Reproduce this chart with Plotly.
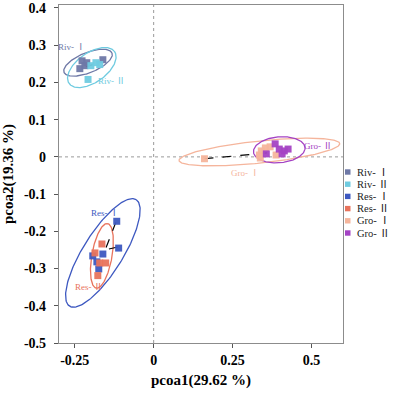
import numpy as np
import plotly.graph_objects as go

groups = ["Riv- Ⅰ", "Riv- Ⅱ", "Res- Ⅰ", "Res- Ⅱ", "Gro- Ⅰ", "Gro- Ⅱ"]
colors = ["#6e78a6", "#6fcbe0", "#3d58c0", "#e8735c", "#f5b59c", "#a443c4"]

riv1_x = [-0.227, -0.212, -0.234, -0.218, -0.161]
riv1_y = [0.258, 0.253, 0.237, 0.245, 0.261]
riv2_x = [-0.199, -0.183, -0.171, -0.208]
riv2_y = [0.245, 0.253, 0.248, 0.208]
res1_x = [-0.117, -0.111, -0.193, -0.180, -0.161, -0.174]
res1_y = [-0.173, -0.245, -0.266, -0.282, -0.261, -0.301]
res2_x = [-0.164, -0.171, -0.152, -0.177, -0.186]
res2_y = [-0.234, -0.285, -0.285, -0.319, -0.258]
gro1_x = [0.161, 0.335, 0.341, 0.354, 0.369, 0.338, 0.388]
gro1_y = [-0.005, 0.005, 0.016, 0.024, 0.027, -0.003, 0.005]
gro2_x = [0.385, 0.398, 0.414, 0.426, 0.357, 0.407]
gro2_y = [0.035, 0.021, 0.016, 0.021, 0.008, 0.008]

xs = [riv1_x, riv2_x, res1_x, res2_x, gro1_x, gro2_x]
ys = [riv1_y, riv2_y, res1_y, res2_y, gro1_y, gro2_y]

# ellipse parameters (center, semi-axes in x-units, screen angle deg)
ell_cx = [-0.208, -0.196, -0.161, -0.164, 0.335, 0.398]
ell_cy = [0.253, 0.240, -0.258, -0.266, 0.013, 0.019]
ell_a = [0.082, 0.088, 0.199, 0.104, 0.256, 0.082]
ell_b = [0.032, 0.047, 0.063, 0.032, 0.035, 0.041]
ell_ang = [22, 35, 58, 80, 6, 5]

# label positions
lab_x = [-0.26, -0.135, -0.155, -0.205, 0.29, 0.52]
lab_y = [0.295, 0.205, -0.15, -0.35, -0.042, 0.028]

# dashed links between groups
link_x0 = [-0.215, 0.161, -0.120, -0.114]
link_y0 = [0.242, -0.005, -0.176, -0.242]
link_x1 = [-0.193, 0.391, -0.155, -0.145]
link_y1 = [0.248, 0.013, -0.253, -0.248]

x_range = [-0.3, 0.6]
y_range = [-0.5, 0.408]
x_ticks = [-0.25, 0, 0.25, 0.5]
x_tick_text = ["-0.25", "0", "0.25", "0.5"]
y_ticks = [0.4, 0.3, 0.2, 0.1, 0, -0.1, -0.2, -0.3, -0.4, -0.5]
y_tick_text = ["0.4", "0.3", "0.2", "0.1", "0", "-0.1", "-0.2", "-0.3", "-0.4", "-0.5"]

W, H = 400, 397
ML, MR, MT, MB = 59, 57, 5, 54
pw = W - ML - MR
ph = H - MT - MB
sx = pw / (x_range[1] - x_range[0])
sy = ph / (y_range[1] - y_range[0])
k = sx / sy

fig = go.Figure()
FONT = "Liberation Serif, Times New Roman, Noto Sans CJK SC, serif"

# zero lines
fig.add_shape(type="line", x0=0, x1=0, y0=y_range[0], y1=y_range[1], xref="x", yref="y",
              line=dict(color="#9a9a9a", width=1, dash="dot"), layer="below")
fig.add_shape(type="line", x0=x_range[0], x1=x_range[1], y0=0, y1=0, xref="x", yref="y",
              line=dict(color="#9a9a9a", width=1, dash="dot"), layer="below")

t = np.linspace(0, 2 * np.pi, 200)
for i in range(6):
    th = np.deg2rad(ell_ang[i])
    ex = ell_cx[i] + ell_a[i] * np.cos(t) * np.cos(th) - ell_b[i] * np.sin(t) * np.sin(th)
    ey = ell_cy[i] + (ell_a[i] * np.cos(t) * np.sin(th) + ell_b[i] * np.sin(t) * np.cos(th)) * k
    fig.add_trace(go.Scatter(x=ex, y=ey, mode="lines", line=dict(color=colors[i], width=1.3),
                             showlegend=False, hoverinfo="skip"))

for i in range(len(link_x0)):
    fig.add_trace(go.Scatter(x=[link_x0[i], link_x1[i]], y=[link_y0[i], link_y1[i]], mode="lines",
                             line=dict(color="black", width=1.2, dash="dash"),
                             showlegend=False, hoverinfo="skip"))

for i in range(6):
    fig.add_trace(go.Scatter(x=xs[i], y=ys[i], mode="markers", name=groups[i], showlegend=False,
                             marker=dict(symbol="square", size=7, color=colors[i], opacity=0.95)))

for i in range(6):
    fig.add_annotation(x=lab_x[i], y=lab_y[i], text=groups[i], showarrow=False,
                       font=dict(family=FONT, size=9, color=colors[i]))

# compact legend (swatches + labels) to the right of the plot
leg_top_px = 172
leg_step_px = 12.2
for i in range(6):
    cy_px = leg_top_px + i * leg_step_px
    py = (H - MB - cy_px) / ph
    half = 2.7 / ph
    fig.add_shape(type="rect", xref="paper", yref="paper",
                  x0=(345 - ML) / pw, x1=(350.5 - ML) / pw, y0=py - half, y1=py + half,
                  fillcolor=colors[i], line=dict(width=0))
    fig.add_annotation(xref="paper", yref="paper", x=(355 - ML) / pw, y=py, xanchor="left",
                       yanchor="middle", text=groups[i], showarrow=False,
                       font=dict(family=FONT, size=10.5, color="#222"))

axis_common = dict(showline=True, linecolor="#8c8c8c", linewidth=1.2, mirror=True,
                   ticks="outside", ticklen=4, tickcolor="#555", showgrid=False, zeroline=False,
                   tickfont=dict(family=FONT, size=14, color="black"))
fig.update_xaxes(range=x_range, tickvals=x_ticks, ticktext=[f"<b>{s}</b>" for s in x_tick_text],
                 title=dict(text="<b>pcoa1(29.62 %)</b>", font=dict(family=FONT, size=15, color="black"),
                            standoff=7), **axis_common)
fig.update_yaxes(range=y_range, tickvals=y_ticks, ticktext=[f"<b>{s}</b>" for s in y_tick_text],
                 ticklabelstandoff=5,
                 title=dict(text="<b>pcoa2(19.36 %)</b>", font=dict(family=FONT, size=15, color="black"),
                            standoff=7), **axis_common)

fig.update_layout(width=W, height=H, margin=dict(l=ML, r=MR, t=MT, b=MB, autoexpand=False),
                  plot_bgcolor="white", paper_bgcolor="white", showlegend=False)
fig.write_html("out.html", config={"displayModeBar": False},
               post_script="document.body.style.margin='0';document.body.style.overflow='hidden';")
